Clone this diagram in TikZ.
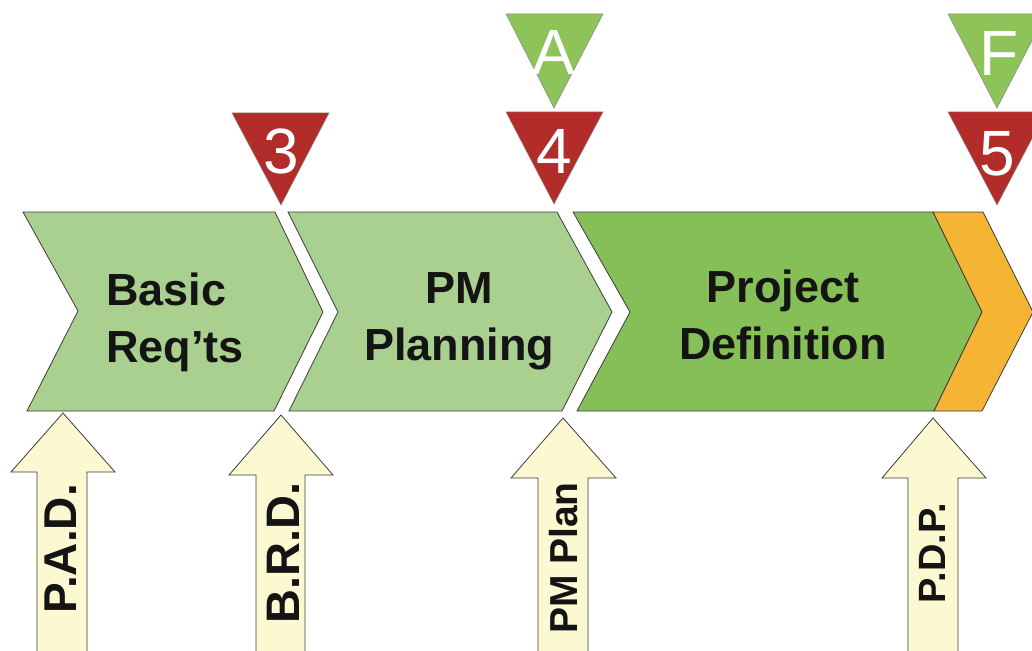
\documentclass[tikz,border=0pt]{standalone}
\usepackage{fontspec}
\setmainfont{Liberation Sans}
\definecolor{lgreen}{HTML}{A9D08E}
\definecolor{mgreen}{HTML}{86BE57}
\definecolor{tgreen}{HTML}{8DC358}
\definecolor{tred}{HTML}{B22C2A}
\definecolor{orng}{HTML}{F5B434}
\definecolor{ylw}{HTML}{FBF8D2}
\definecolor{edge}{HTML}{3C3C3C}
\definecolor{ink}{HTML}{141414}
\tikzset{
  shapeline/.style={draw=edge, line width=0.8pt, line join=miter},
  chevlabel/.style={font=\bfseries\fontsize{45}{57}\selectfont, align=center, inner sep=0pt, anchor=north, text=ink},
  trilabel/.style={font=\fontsize{64}{64}\selectfont, text=white, inner sep=0pt, anchor=base},
  arrlabel/.style={font=\bfseries, rotate=90, inner sep=0pt, anchor=center, text=ink},
}
\begin{document}
\begin{tikzpicture}[x=1pt,y=-1pt]
\useasboundingbox (0,0) rectangle (1032,650);
\clip (0,0) rectangle (1032,650);
\fill[white] (0,0) rectangle (1032,650);

% chevrons
\filldraw[shapeline, fill=lgreen] (23,212) -- (275,212) -- (323,312) -- (274,411) -- (27,411) -- (78,311) -- cycle;
\filldraw[shapeline, fill=lgreen] (288,212) -- (557,212) -- (612,312) -- (562,411) -- (289,411) -- (338,312) -- cycle;
\filldraw[shapeline, fill=mgreen] (573,212) -- (933,212) -- (982,312) -- (934,411) -- (577,411) -- (630,312) -- cycle;
\filldraw[shapeline, fill=orng] (933,212) -- (983,212) -- (1033,312) -- (982,411) -- (934,411) -- (982,312) -- cycle;

\node[chevlabel, align=left, anchor=north west] (basic) at (106,273) {Basic\\Req’ts};
\node[chevlabel] (pmplan) at (459,272) {PM\\Planning};
\node[chevlabel] (projdef) at (783,270) {Project\\Definition};

% triangles
\filldraw[draw=edge!60, line width=0.5pt, fill=tred] (232,113) -- (329,113) -- (281,205) -- cycle;
\filldraw[draw=edge!60, line width=0.5pt, fill=tred] (506,112) -- (603,112) -- (554,204) -- cycle;
\filldraw[draw=edge!60, line width=0.5pt, fill=tred] (948,112) -- (1046,112) -- (997,205) -- cycle;
\filldraw[draw=edge!60, line width=0.5pt, fill=tgreen] (506,14) -- (603,14) -- (554,108) -- cycle;
\filldraw[draw=edge!60, line width=0.5pt, fill=tgreen] (948,14) -- (1046,14) -- (997,108) -- cycle;

\node[trilabel] (m3) at (281,173) {3};
\node[trilabel] (m4) at (554,173) {4};
\node[trilabel] (m5) at (997,175) {5};
\node[trilabel] (gA) at (554,75) {A};
\node[trilabel] (gF) at (999,76) {F};

% yellow arrows
\filldraw[shapeline, fill=ylw] (63,413) -- (115,472) -- (87,472) -- (87,660) -- (37,660) -- (37,472) -- (11,472) -- cycle;
\filldraw[shapeline, fill=ylw] (281,415) -- (333,475) -- (305,475) -- (305,660) -- (256,660) -- (256,475) -- (229,475) -- cycle;
\filldraw[shapeline, fill=ylw] (563,418) -- (616,478) -- (588,478) -- (588,660) -- (538,660) -- (538,478) -- (511,478) -- cycle;
\filldraw[shapeline, fill=ylw] (933,418) -- (986,478) -- (958,478) -- (958,660) -- (908,660) -- (908,478) -- (882,478) -- cycle;

\node[arrlabel, font=\bfseries\fontsize{46}{46}\selectfont] (pad) at (61,549) {P.A.D.};
\node[arrlabel, font=\bfseries\fontsize{47}{47}\selectfont] (brd) at (283.5,553) {B.R.D.};
\node[arrlabel, font=\bfseries\fontsize{39}{39}\selectfont] (pmp) at (563.5,558) {PM Plan};
\node[arrlabel, font=\bfseries\fontsize{38}{38}\selectfont] (pdp) at (932.5,553) {P.D.P.};
\end{tikzpicture}
\end{document}
